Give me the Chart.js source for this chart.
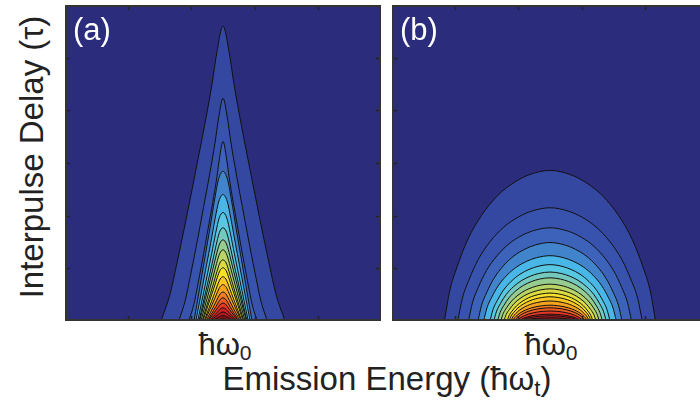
<!DOCTYPE html>
<html>
<head>
<meta charset="utf-8">
<script src="https://cdn.jsdelivr.net/npm/chart.js@4.4.1/dist/chart.umd.min.js"></script>
<style>
    html, body { margin: 0; padding: 0; background: #fff; }
    body { width: 700px; height: 409px; overflow: hidden; position: relative;
           font-family: "Liberation Sans", Arial, sans-serif; color: #222; }
    .panel { position: absolute; top: 5px; width: 316px; height: 316px; }
    .tag { position: absolute; top: 14px; color: #fff; font-size: 31px; line-height: 1; }
    .lbl { position: absolute; line-height: 1; white-space: nowrap; transform: translateX(-50%); }
    .lbl sub { font-size: 0.68em; vertical-align: -0.25em; }
    #ytitle { position: absolute; left: 31px; top: 157px; font-size: 33px; line-height: 1; white-space: nowrap;
              transform: translate(-50%, -50%) rotate(-90deg); }
</style>
</head>
<body>
<canvas id="chartA" class="panel" style="left:65px" width="316" height="316"></canvas>
<canvas id="chartB" class="panel" style="left:392px" width="316" height="316"></canvas>
<div class="tag" style="left:73px">(a)</div>
<div class="tag" style="left:400px">(b)</div>
<div id="ytitle">Interpulse Delay (τ)</div>
<div class="lbl" style="left:225px; top:329px; font-size:31px">ħω<sub>0</sub></div>
<div class="lbl" style="left:551px; top:329px; font-size:31px">ħω<sub>0</sub></div>
<div class="lbl" style="left:387px; top:362px; font-size:33px">Emission Energy (ħω<sub>t</sub>)</div>

<script>
// filled contour colours, outermost level first (jet map)
const bgColor = '#2b2c7c';
const levelColors = [
    '#3447a1', '#3853ad', '#3c62b9', '#4184cc', '#48b6e6',
    '#58c8e2', '#74c8bc', '#96cc90', '#b8d466', '#dcdc40',
    '#f6e02a', '#f9c424', '#f5a21f', '#f17e20', '#ec5a22',
    '#e63624', '#d32224', '#b3191d', '#8c1216', '#660b0e'
];

// inward tick positions (x 0..5, delay 0..6)
const xTicks = [1, 2, 3, 4];
const yTicks = [1, 2, 3, 4, 5];
const center = 2.5;   // ħω0

// (a): peak delay and half width at the base of each contour
const peakA = [5.60, 4.23, 3.41, 2.84, 2.40, 2.06, 1.77, 1.54, 1.35, 1.16,
               1.01, 0.84, 0.69, 0.55, 0.44, 0.34, 0.25, 0.17, 0.10, 0.04];
const halfWidthA = [0.98, 0.70, 0.54, 0.46, 0.43, 0.40, 0.38, 0.37, 0.35, 0.33,
                    0.32, 0.30, 0.29, 0.27, 0.25, 0.24, 0.22, 0.21, 0.19, 0.17];

// (b)
const peakB = [2.86, 2.15, 1.77, 1.49, 1.24, 1.07, 0.93, 0.82, 0.70, 0.61,
               0.53, 0.46, 0.38, 0.30, 0.25, 0.19, 0.13, 0.10, 0.06, 0.02];
const halfWidthB = [1.67, 1.46, 1.29, 1.14, 1.05, 0.95, 0.89, 0.83, 0.78, 0.73,
                    0.68, 0.65, 0.62, 0.59, 0.56, 0.52, 0.49, 0.46, 0.43, 0.40];

// contour outlines: fraction of half width -> fraction of peak
const profileAOuter = {      // first three levels of (a)
    w: [0, 0.1, 0.18, 0.3, 0.44, 0.6, 0.75, 0.85, 1],
    h: [1, 0.91, 0.8, 0.66, 0.51, 0.34, 0.19, 0.095, 0]
};
const profileAInner = {
    w: [0, 0.15, 0.29, 0.45, 0.6, 0.75, 0.9, 1],
    h: [1, 0.95, 0.81, 0.62, 0.45, 0.28, 0.11, 0]
};
const profileB = {
    w: [0, 0.2, 0.35, 0.5, 0.65, 0.78, 0.88, 0.95, 1],
    h: [1, 0.97, 0.915, 0.83, 0.7, 0.54, 0.36, 0.2, 0]
};

function contour(peak, half, prof) {
    const pts = [];
    for (let j = prof.w.length - 1; j >= 0; j--) {
        pts.push({ x: center - half * prof.w[j], y: peak * prof.h[j] });
    }
    for (let j = 1; j < prof.w.length; j++) {
        pts.push({ x: center + half * prof.w[j], y: peak * prof.h[j] });
    }
    return pts;
}

const framePlugin = {
    id: 'frame',
    beforeDraw(chart) {
        const { ctx, chartArea: a } = chart;
        ctx.save();
        ctx.fillStyle = bgColor;
        ctx.fillRect(a.left, a.top, a.width, a.height);
        ctx.restore();
    },
    afterDraw(chart) {
        const { ctx, chartArea: a } = chart;
        const x = chart.scales.x, y = chart.scales.y;
        ctx.save();
        ctx.strokeStyle = '#222';
        ctx.lineWidth = 1.5;
        ctx.beginPath();
        xTicks.forEach(v => {
            const px = Math.round(x.getPixelForValue(v)) + 0.5;
            ctx.moveTo(px, a.top); ctx.lineTo(px, a.top + 5);
            ctx.moveTo(px, a.bottom); ctx.lineTo(px, a.bottom - 5);
        });
        yTicks.forEach(v => {
            const py = Math.round(y.getPixelForValue(v)) + 0.5;
            ctx.moveTo(a.left, py); ctx.lineTo(a.left + 5, py);
            ctx.moveTo(a.right, py); ctx.lineTo(a.right - 5, py);
        });
        ctx.stroke();
        ctx.lineWidth = 2;
        ctx.strokeStyle = '#333';
        ctx.strokeRect(a.left + 1, a.top + 1, a.width - 2, a.height - 2);
        ctx.restore();
    }
};

function makeChart(id, peaks, widths, profileFor) {
    const n = peaks.length;
    const datasets = peaks.map((p, i) => ({
        data: contour(p, widths[i], profileFor(i)),
        backgroundColor: levelColors[i],
        borderColor: '#111',
        borderWidth: 1,
        pointRadius: 0,
        fill: 'origin',
        cubicInterpolationMode: 'monotone',
        order: n - i
    }));
    new Chart(document.getElementById(id), {
        type: 'line',
        data: { datasets },
        options: {
            responsive: false,
            animation: false,
            devicePixelRatio: 1,
            layout: { padding: 0 },
            scales: {
                x: { type: 'linear', min: 0, max: 5, display: false },
                y: { type: 'linear', min: 0, max: 6, display: false }
            },
            plugins: {
                legend: { display: false },
                tooltip: { enabled: false }
            }
        },
        plugins: [framePlugin]
    });
}

makeChart('chartA', peakA, halfWidthA, i => (i < 3 ? profileAOuter : profileAInner));
makeChart('chartB', peakB, halfWidthB, () => profileB);
</script>
</body>
</html>
